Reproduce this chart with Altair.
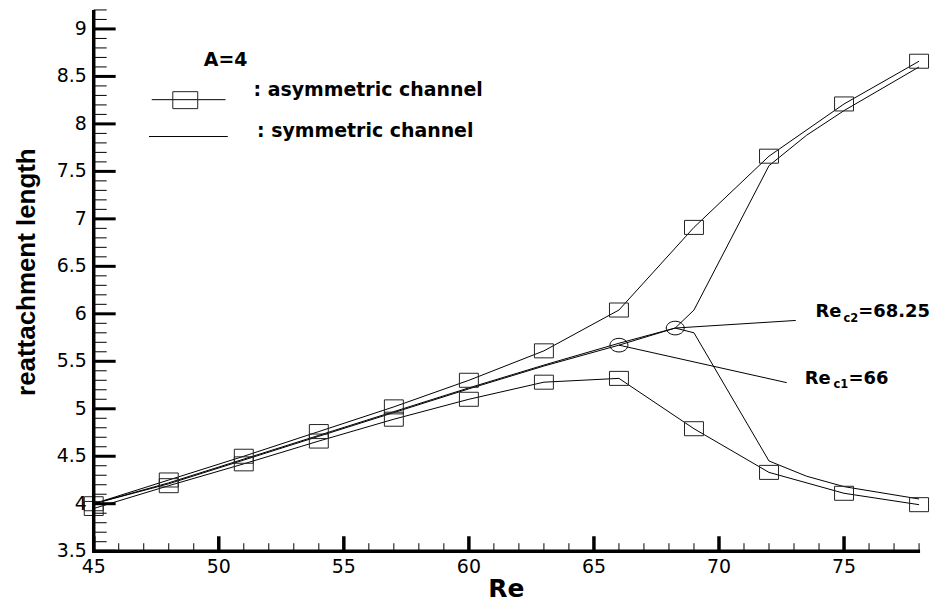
import altair as alt
import pandas as pd

# ---------------- data ----------------
re_asym = [45, 48, 51, 54, 57, 60, 63, 66, 69, 72, 75, 78]
asym_upper = [4.00, 4.25, 4.50, 4.76, 5.02, 5.30, 5.61, 6.04, 6.91, 7.66, 8.21, 8.66]
asym_lower = [3.95, 4.19, 4.42, 4.66, 4.89, 5.10, 5.28, 5.32, 4.79, 4.33, 4.11, 3.99]

re_sym = [45, 48, 51, 54, 57, 60, 63, 66, 68.25, 69, 72, 73.5, 75, 78]
sym_upper = [4.00, 4.22, 4.47, 4.72, 4.97, 5.22, 5.46, 5.69, 5.85, 6.04, 7.56, 7.88, 8.14, 8.60]
sym_lower = [4.00, 4.21, 4.46, 4.71, 4.96, 5.21, 5.45, 5.67, 5.85, 5.80, 4.45, 4.29, 4.18, 4.05]

re_crit = [66, 68.25]
len_crit = [5.67, 5.85]
leader_end_re = [72.71, 73.07]
leader_end_len = [5.275, 5.93]

x_major = [45, 50, 55, 60, 65, 70, 75]
x_major_labels = ["45", "50", "55", "60", "65", "70", "75"]
x_minor = list(range(45, 79))
y_major = [3.5, 4, 4.5, 5, 5.5, 6, 6.5, 7, 7.5, 8, 8.5, 9]
y_major_labels = ["3.5", "4", "4.5", "5", "5.5", "6", "6.5", "7", "7.5", "8", "8.5", "9"]
y_minor = [round(3.5 + 0.1 * i, 2) for i in range(0, 58)]

x_title = "Re"
y_title = "reattachment length"
legend_labels = [": asymmetric channel", ": symmetric channel"]
legend_title = "A=4"

# ---------------- tables ----------------
rows = []
for name, xs, ys in [("asym_upper", re_asym, asym_upper),
                     ("asym_lower", re_asym, asym_lower),
                     ("sym_upper", re_sym, sym_upper),
                     ("sym_lower", re_sym, sym_lower)]:
    for i, (a, b) in enumerate(zip(xs, ys)):
        rows.append({"series": name, "idx": i, "Re": a, "L": b})
lines_df = pd.DataFrame(rows)
asym_df = lines_df[lines_df.series.str.startswith("asym")]
crit_df = pd.DataFrame({"Re": re_crit, "L": len_crit})
leader_rows = []
for k in range(2):
    leader_rows.append({"k": k, "i": 0, "Re": re_crit[k], "L": len_crit[k]})
    leader_rows.append({"k": k, "i": 1, "Re": leader_end_re[k], "L": leader_end_len[k]})
leader_df = pd.DataFrame(leader_rows)
xlab_df = pd.DataFrame({"v": x_major, "t": x_major_labels})
ylab_df = pd.DataFrame({"v": y_major, "t": y_major_labels})

W, H = 828, 543
xscale = alt.Scale(domain=[45, 78], nice=False, zero=False)
yscale = alt.Scale(domain=[3.5, 9.2], nice=False, zero=False)

FONT = "DejaVu Sans"
RECT = "M-1,-0.74H1V0.74H-1Z"
RECT_LEG = "M-1,-0.68H1V0.68H-1Z"
ELLIPSE = ("M-1,0C-1,-0.42 -0.55,-0.76 0,-0.76C0.55,-0.76 1,-0.42 1,0"
           "C1,0.42 0.55,0.76 0,0.76C-0.55,0.76 -1,0.42 -1,0Z")

one = pd.DataFrame({"a": [0]})

def X(field):
    return alt.X(field, scale=xscale, axis=None)

def Y(field):
    return alt.Y(field, scale=yscale, axis=None)

def XD(v):
    return alt.XDatum(v, scale=xscale, axis=None)

def YD(v):
    return alt.YDatum(v, scale=yscale, axis=None)

lines = alt.Chart(lines_df).mark_line(color="black", strokeWidth=1).encode(
    x=X("Re:Q"), y=Y("L:Q"), detail="series:N", order="idx:Q")

squares = alt.Chart(asym_df).mark_point(
    shape=RECT, size=361, filled=False, color="#222222", strokeWidth=1,
    opacity=1).encode(x=X("Re:Q"), y=Y("L:Q"))

ellipses = alt.Chart(crit_df).mark_point(
    shape=ELLIPSE, size=324, filled=False, color="black", strokeWidth=1,
    opacity=1).encode(x=X("Re:Q"), y=Y("L:Q"))

leaders = alt.Chart(leader_df).mark_line(color="black", strokeWidth=1).encode(
    x=X("Re:Q"), y=Y("L:Q"), detail="k:N", order="i:Q")

def yticks(vals, length, width):
    return alt.Chart(pd.DataFrame({"v": vals})).mark_rule(
        color="black", strokeWidth=width).encode(
        y=Y("v:Q"), x=alt.value(0), x2=alt.value(length))

def xticks(vals, length, width):
    return alt.Chart(pd.DataFrame({"v": vals})).mark_rule(
        color="black", strokeWidth=width).encode(
        x=X("v:Q"), y=alt.value(H), y2=alt.value(H - length))

# axis lines
x_domain = alt.Chart(one).mark_rule(color="black", strokeWidth=3.5).encode(
    x=alt.value(-1.5), x2=alt.value(W + 1), y=alt.value(H))
y_domain = alt.Chart(one).mark_rule(color="black", strokeWidth=3.5).encode(
    x=alt.value(0), y=alt.value(0), y2=alt.value(H + 1.5))

# tick labels
x_labels = alt.Chart(xlab_df).mark_text(
    font=FONT, fontSize=19, color="black", align="center",
    baseline="alphabetic").encode(x=X("v:Q"), y=alt.value(H + 22), text="t:N")
y_labels = alt.Chart(ylab_df).mark_text(
    font=FONT, fontSize=19, color="black", align="right",
    baseline="middle").encode(x=alt.value(-7), y=Y("v:Q"), text="t:N")

# axis titles
x_title_mark = alt.Chart(one).mark_text(
    text=x_title, font=FONT, fontSize=25, fontWeight="bold", color="black",
    align="center", baseline="alphabetic").encode(
    x=alt.value(W / 2), y=alt.value(H + 46))
y_title_mark = alt.Chart(one).mark_text(
    text=y_title, font="Liberation Sans", fontSize=26, fontWeight="bold",
    color="black", align="center", baseline="middle", angle=270).encode(
    x=alt.value(-67), y=alt.value(263))

def txt(s, x, y, size, font=FONT):
    return alt.Chart(one).mark_text(
        text=s, align="left", baseline="alphabetic", fontSize=size,
        font=font, fontWeight="bold", color="black").encode(
        x=XD(x), y=YD(y))

def hline(x1, x2, y):
    return alt.Chart(one).mark_rule(color="black", strokeWidth=1).encode(
        x=XD(x1), x2=alt.X2Datum(x2), y=YD(y))

legend_square = alt.Chart(one).mark_point(
    shape=RECT_LEG, size=625, filled=False, color="#222222", strokeWidth=1,
    opacity=1).encode(x=XD(48.66), y=YD(8.25))

chart = alt.layer(
    lines, squares, ellipses, leaders,
    yticks(y_minor, 13, 1), yticks(y_major, 22, 3),
    xticks(x_minor, 8, 1), xticks(x_major, 15, 3.5),
    x_domain, y_domain, x_labels, y_labels, x_title_mark, y_title_mark,
    txt(legend_title, 49.40, 8.61, 19),
    hline(47.32, 50.27, 8.255), legend_square,
    txt(legend_labels[0], 51.39, 8.297, 19),
    hline(47.21, 50.36, 7.867),
    txt(legend_labels[1], 51.53, 7.86, 19),
    txt("Re", 73.86, 5.965, 18), txt("c2", 74.98, 5.919, 11.5),
    txt("=68.25", 75.57, 5.965, 18),
    txt("Re", 73.43, 5.264, 18), txt("c1", 74.58, 5.217, 11.5),
    txt("=66", 75.18, 5.264, 18),
).properties(
    width=W, height=H,
    autosize=alt.AutoSizeParams(type="none"),
    padding={"left": 86, "top": 1, "right": 20, "bottom": 50},
).configure(background="white").configure_view(stroke=None)

chart.save("out.html", embed_options={"renderer": "svg", "actions": False})
